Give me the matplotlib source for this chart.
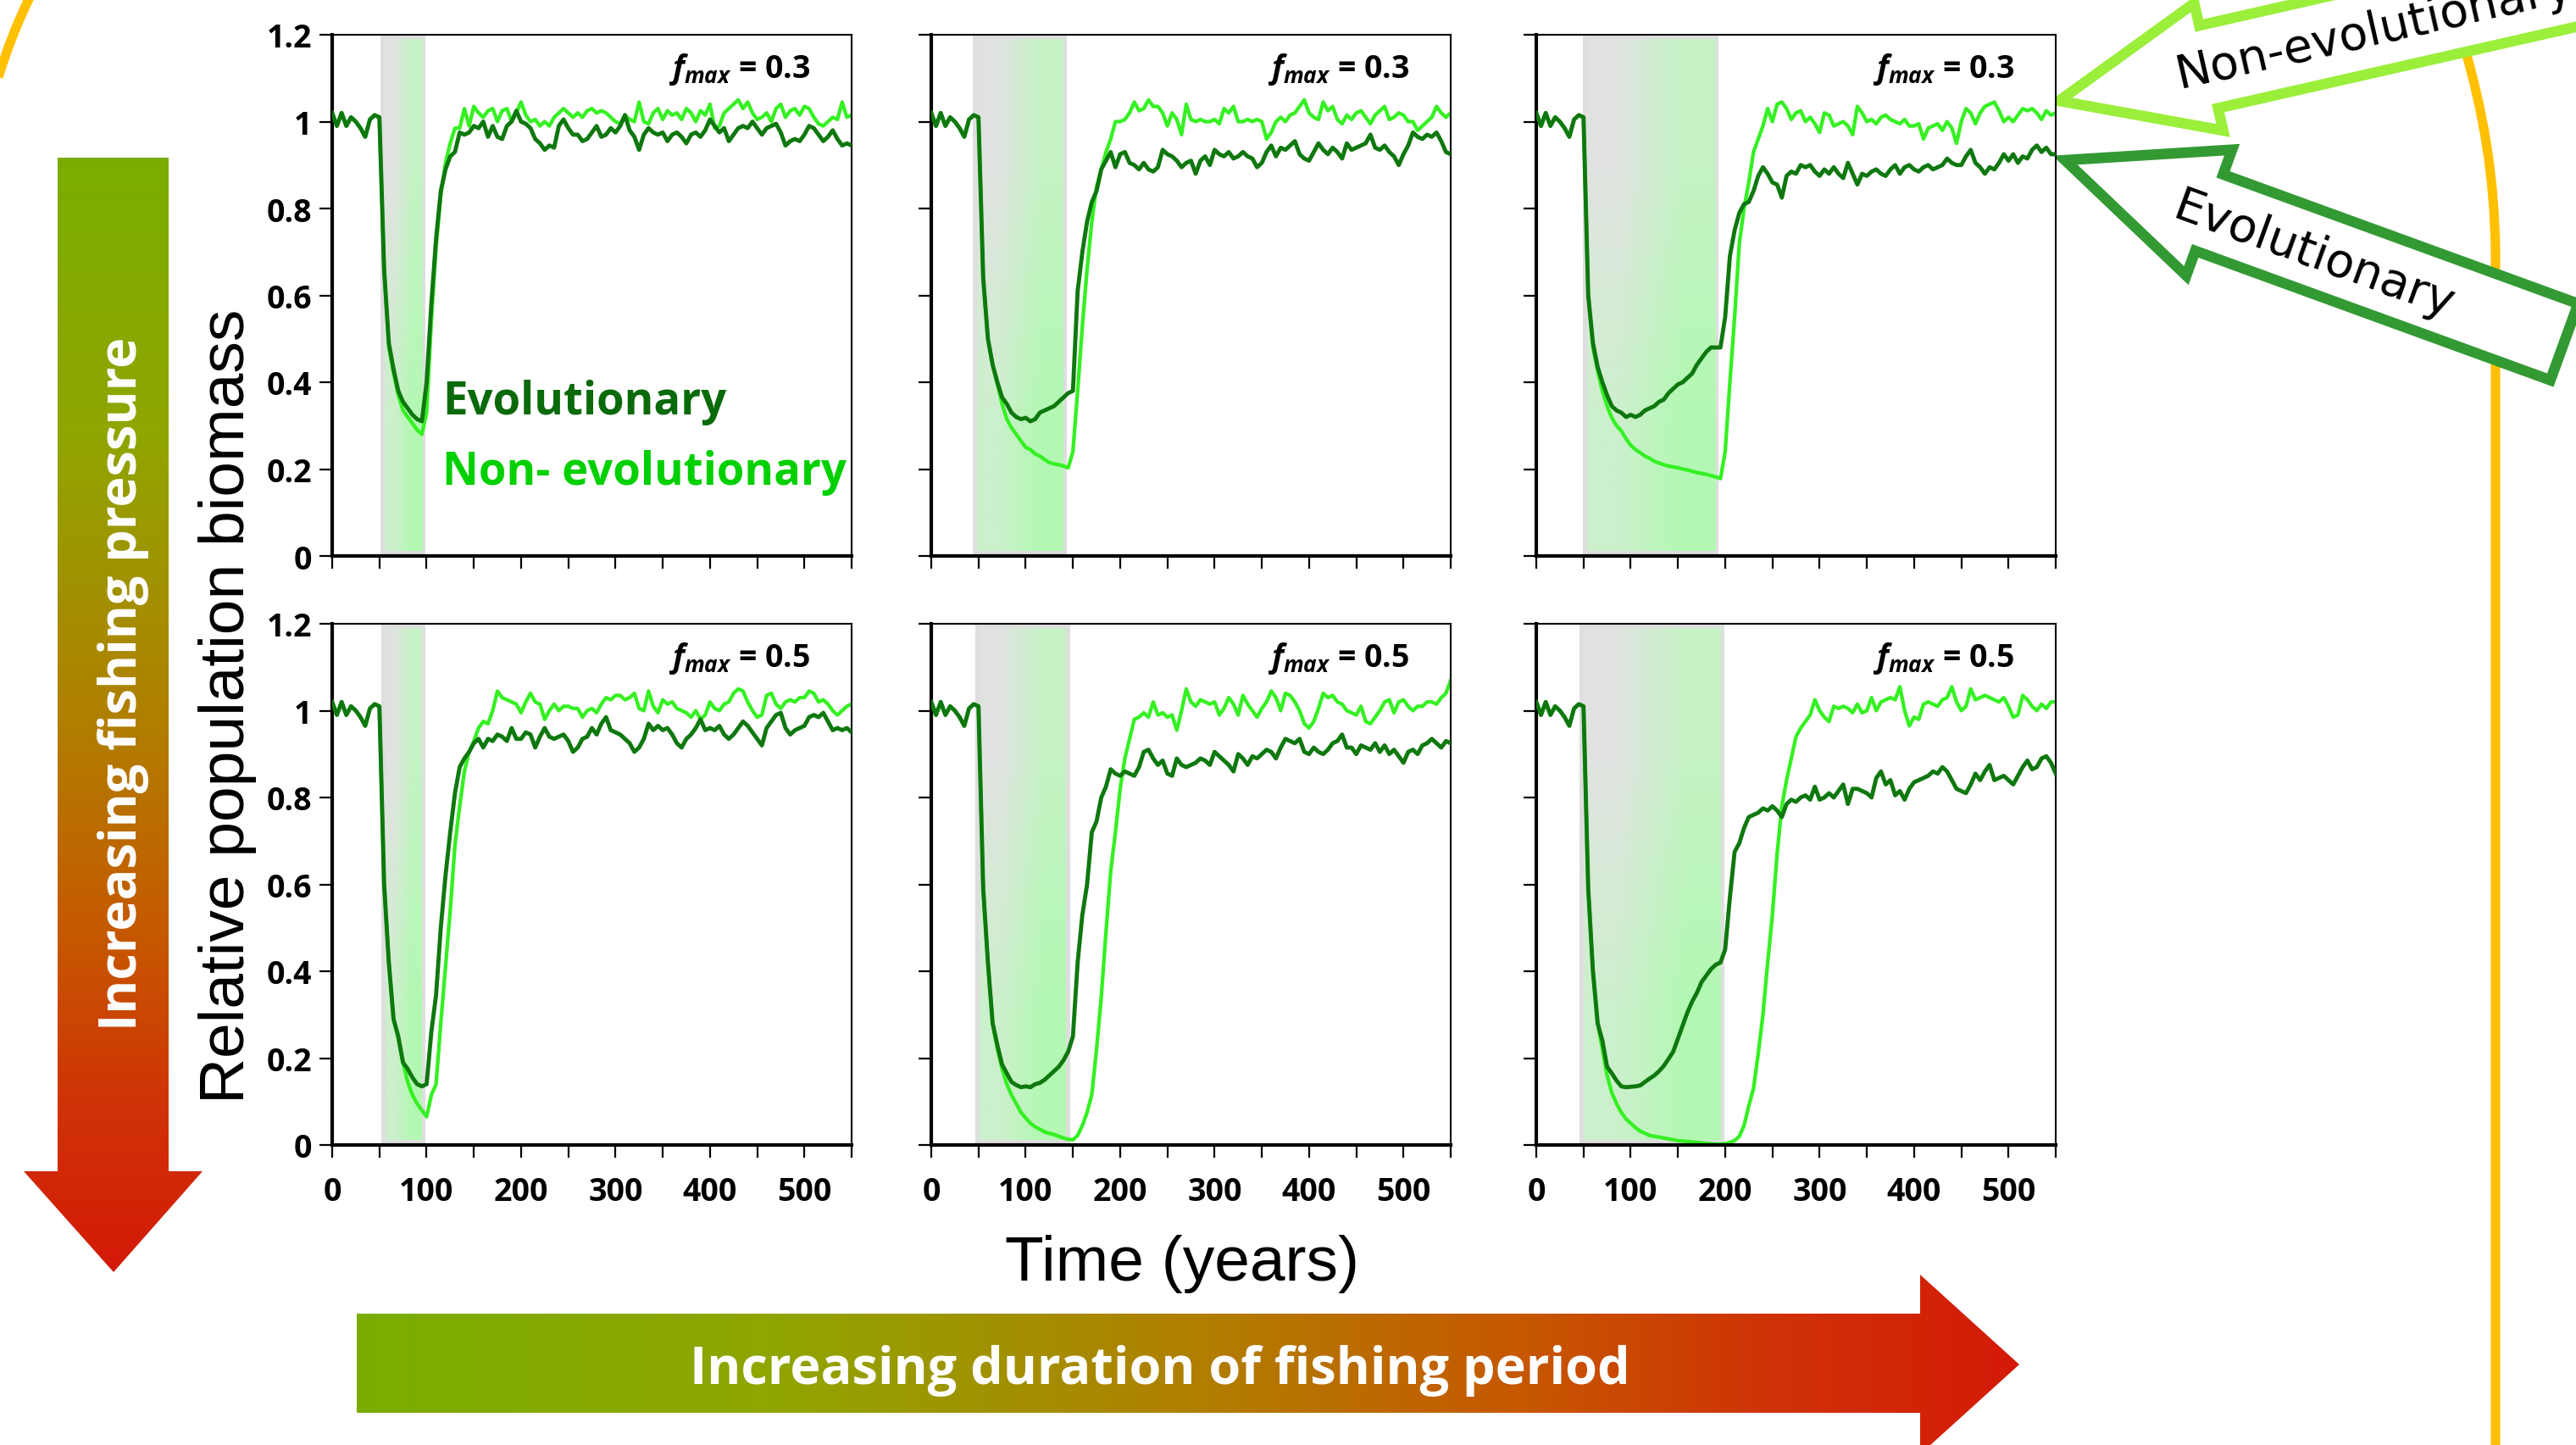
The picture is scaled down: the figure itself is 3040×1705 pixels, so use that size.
import numpy as np
import matplotlib
matplotlib.use('Agg')
import matplotlib.pyplot as plt
from matplotlib.patches import Polygon, PathPatch
from matplotlib.path import Path
from matplotlib.colors import LinearSegmentedColormap

# ---------------- data ----------------
years = list(range(0, 551, 5))
pre_fishing = [1.02, 0.99, 1.02, 0.99, 1.01, 1.00, 0.985, 0.965, 1.005, 1.015, 1.01]

evo_A_post = [
    0.66, 0.49, 0.43, 0.38, 0.355, 0.34, 0.325, 0.315, 0.31, 0.40,
    0.58, 0.73, 0.84, 0.89, 0.92, 0.93, 0.975, 0.97, 0.975, 0.99,
    0.985, 1.0, 0.965, 0.99, 0.965, 0.96, 0.99, 1.0, 1.025, 1.0,
    0.995, 0.985, 0.96, 0.95, 0.935, 0.945, 0.94, 0.99, 1.005, 0.985,
    0.97, 0.97, 0.955, 0.96, 0.975, 0.99, 0.965, 0.97, 0.985, 0.975,
    0.99, 1.015, 0.98, 0.965, 0.935, 0.97, 0.985, 0.975, 0.97, 0.975,
    0.955, 0.97, 0.975, 0.965, 0.95, 0.97, 0.975, 0.965, 0.98, 1.005,
    0.99, 0.975, 0.985, 0.955, 0.97, 0.985, 0.99, 0.985, 1.0, 0.985,
    0.97, 0.985, 0.99, 0.995, 0.975, 0.945, 0.955, 0.96, 0.955, 0.97,
    0.99, 0.985, 0.97, 0.955, 0.965, 0.98, 0.96, 0.945, 0.95, 0.945]
nonevo_A_post = [
    0.66, 0.48, 0.42, 0.37, 0.335, 0.32, 0.305, 0.29, 0.28, 0.33,
    0.54, 0.71, 0.83, 0.905, 0.95, 0.985, 0.985, 1.03, 0.99, 1.035,
    1.02, 1.01, 1.025, 1.03, 1.0, 1.025, 1.03, 1.0, 1.02, 1.045,
    1.015, 1.0, 1.005, 0.99, 1.0, 0.99, 1.01, 1.02, 1.03, 1.02,
    1.01, 1.02, 1.01, 1.025, 1.03, 1.02, 1.025, 1.02, 1.01, 1.0,
    0.995, 1.015, 1.005, 1.0, 1.045, 1.0, 0.995, 1.02, 1.03, 1.005,
    1.025, 1.015, 1.02, 1.005, 1.03, 1.02, 1.0, 1.025, 1.015, 1.04,
    0.985, 0.99, 1.02, 1.03, 1.04, 1.05, 1.03, 1.045, 1.02, 1.005,
    1.01, 1.02, 1.0, 1.03, 1.04, 1.01, 1.025, 1.03, 1.015, 1.035,
    1.03, 1.01, 0.995, 0.99, 1.0, 1.01, 1.005, 1.045, 1.01, 1.015]

evo_B_post = [
    0.64, 0.50, 0.44, 0.40, 0.365, 0.35, 0.33, 0.32, 0.315, 0.318,
    0.31, 0.315, 0.33, 0.335, 0.34, 0.345, 0.355, 0.365, 0.375, 0.38,
    0.61, 0.70, 0.77, 0.815, 0.84, 0.89, 0.91, 0.93, 0.895, 0.925,
    0.93, 0.905, 0.90, 0.89, 0.905, 0.89, 0.885, 0.895, 0.935, 0.925,
    0.92, 0.91, 0.895, 0.905, 0.91, 0.88, 0.91, 0.92, 0.90, 0.935,
    0.925, 0.92, 0.93, 0.915, 0.92, 0.93, 0.92, 0.915, 0.895, 0.905,
    0.93, 0.945, 0.92, 0.94, 0.935, 0.945, 0.955, 0.925, 0.915, 0.91,
    0.93, 0.95, 0.935, 0.925, 0.94, 0.93, 0.915, 0.95, 0.935, 0.94,
    0.945, 0.95, 0.97, 0.94, 0.935, 0.945, 0.93, 0.92, 0.90, 0.925,
    0.945, 0.975, 0.965, 0.96, 0.97, 0.965, 0.975, 0.955, 0.93, 0.925]
nonevo_B_post = [
    0.64, 0.50, 0.44, 0.395, 0.35, 0.315, 0.295, 0.28, 0.265, 0.25,
    0.245, 0.235, 0.23, 0.222, 0.215, 0.212, 0.21, 0.207, 0.203, 0.24,
    0.38, 0.53, 0.66, 0.77, 0.85, 0.89, 0.93, 0.96, 1.0, 1.0,
    1.005, 1.02, 1.045, 1.025, 1.03, 1.05, 1.035, 1.035, 1.02, 0.99,
    1.02, 1.005, 0.97, 1.04, 1.005, 1.0, 1.005, 1.0, 1.0, 1.005,
    0.995, 1.03, 1.02, 1.035, 1.0, 1.0, 1.005, 1.0, 1.005, 1.0,
    0.96, 0.975, 1.0, 1.01, 1.0, 1.015, 1.02, 1.035, 1.05, 1.02,
    1.01, 1.005, 1.045, 1.025, 1.035, 1.005, 0.995, 1.015, 1.005, 1.02,
    1.025, 1.01, 0.995, 1.015, 1.025, 1.035, 1.005, 1.01, 1.02, 1.015,
    1.0, 1.0, 0.98, 0.99, 1.0, 1.01, 1.035, 1.02, 1.01, 1.02]

evo_C_post = [
    0.60, 0.49, 0.435, 0.40, 0.37, 0.345, 0.335, 0.33, 0.32, 0.325,
    0.32, 0.325, 0.335, 0.34, 0.345, 0.355, 0.36, 0.375, 0.385, 0.395,
    0.40, 0.41, 0.42, 0.44, 0.455, 0.47, 0.48, 0.48, 0.48, 0.55,
    0.69, 0.75, 0.79, 0.81, 0.815, 0.84, 0.875, 0.895, 0.88, 0.86,
    0.855, 0.825, 0.875, 0.885, 0.88, 0.90, 0.895, 0.90, 0.885, 0.875,
    0.89, 0.88, 0.895, 0.88, 0.87, 0.905, 0.88, 0.855, 0.88, 0.875,
    0.885, 0.89, 0.88, 0.875, 0.89, 0.90, 0.88, 0.895, 0.90, 0.89,
    0.885, 0.895, 0.90, 0.89, 0.895, 0.90, 0.915, 0.905, 0.90, 0.90,
    0.92, 0.935, 0.905, 0.895, 0.88, 0.895, 0.89, 0.905, 0.925, 0.91,
    0.925, 0.905, 0.92, 0.915, 0.935, 0.945, 0.93, 0.94, 0.925, 0.925]
nonevo_C_post = [
    0.60, 0.48, 0.425, 0.38, 0.345, 0.318, 0.30, 0.288, 0.27, 0.255,
    0.245, 0.238, 0.23, 0.225, 0.218, 0.214, 0.21, 0.207, 0.205, 0.203,
    0.20, 0.198, 0.195, 0.192, 0.19, 0.188, 0.185, 0.182, 0.178, 0.24,
    0.40, 0.55, 0.72, 0.80, 0.86, 0.93, 0.96, 0.99, 1.03, 1.0,
    1.04, 1.045, 1.03, 1.005, 1.02, 1.025, 1.0, 1.01, 0.995, 0.975,
    1.02, 1.015, 0.99, 0.995, 1.0, 0.99, 0.97, 1.035, 1.02, 1.0,
    1.005, 0.995, 1.01, 1.015, 1.005, 1.0, 0.995, 1.005, 0.99, 0.99,
    0.995, 0.96, 0.985, 0.99, 0.995, 0.98, 1.0, 0.985, 0.95, 1.0,
    1.03, 1.02, 0.995, 1.02, 1.035, 1.04, 1.045, 1.025, 1.0, 1.01,
    1.0, 1.015, 1.03, 1.025, 1.03, 1.02, 1.005, 1.025, 1.015, 1.02]

evo_D_post = [
    0.60, 0.42, 0.29, 0.25, 0.19, 0.175, 0.155, 0.14, 0.135, 0.14,
    0.26, 0.345, 0.50, 0.62, 0.72, 0.81, 0.87, 0.89, 0.905, 0.925,
    0.935, 0.915, 0.935, 0.93, 0.945, 0.94, 0.93, 0.96, 0.935, 0.935,
    0.95, 0.945, 0.915, 0.94, 0.96, 0.94, 0.935, 0.94, 0.945, 0.93,
    0.905, 0.915, 0.935, 0.94, 0.96, 0.945, 0.97, 0.985, 0.955, 0.95,
    0.945, 0.935, 0.925, 0.905, 0.915, 0.935, 0.97, 0.955, 0.965, 0.955,
    0.96, 0.945, 0.925, 0.915, 0.935, 0.945, 0.96, 0.98, 0.955, 0.96,
    0.955, 0.965, 0.945, 0.935, 0.945, 0.96, 0.975, 0.965, 0.95, 0.935,
    0.92, 0.96, 0.975, 0.99, 0.995, 0.96, 0.945, 0.955, 0.96, 0.965,
    0.985, 0.99, 0.985, 0.995, 0.975, 0.955, 0.96, 0.955, 0.96, 0.95]
nonevo_D_post = [
    0.60, 0.42, 0.29, 0.245, 0.19, 0.145, 0.115, 0.095, 0.08, 0.065,
    0.115, 0.14, 0.28, 0.41, 0.54, 0.69, 0.78, 0.86, 0.905, 0.93,
    0.96, 0.975, 0.97, 1.0, 1.045, 1.03, 1.025, 1.02, 1.015, 0.995,
    1.02, 1.04, 1.02, 1.015, 0.98, 1.0, 1.015, 1.0, 1.01, 1.01,
    1.005, 1.005, 0.985, 1.0, 1.005, 0.995, 1.015, 1.03, 1.025, 1.035,
    1.035, 1.025, 1.03, 1.04, 1.005, 1.0, 1.045, 1.01, 0.995, 1.025,
    1.015, 1.02, 1.005, 1.0, 0.995, 0.985, 1.0, 0.98, 0.99, 1.02,
    1.005, 1.0, 1.015, 1.02, 1.04, 1.05, 1.045, 1.02, 1.0, 0.985,
    0.99, 1.035, 1.04, 1.015, 1.005, 1.02, 1.025, 1.02, 1.03, 1.03,
    1.045, 1.04, 1.02, 1.025, 1.015, 1.0, 0.99, 1.0, 1.01, 1.015]

evo_E_post = [
    0.59, 0.42, 0.28, 0.23, 0.185, 0.165, 0.145, 0.138, 0.133, 0.135,
    0.133, 0.14, 0.143, 0.15, 0.16, 0.17, 0.18, 0.195, 0.215, 0.25,
    0.42, 0.53, 0.60, 0.72, 0.745, 0.80, 0.825, 0.865, 0.855, 0.85,
    0.86, 0.855, 0.85, 0.87, 0.905, 0.91, 0.89, 0.875, 0.885, 0.855,
    0.85, 0.89, 0.875, 0.87, 0.875, 0.88, 0.89, 0.885, 0.875, 0.905,
    0.895, 0.885, 0.875, 0.86, 0.90, 0.89, 0.875, 0.895, 0.89, 0.90,
    0.91, 0.905, 0.89, 0.915, 0.935, 0.93, 0.925, 0.935, 0.905, 0.90,
    0.915, 0.905, 0.90, 0.91, 0.925, 0.93, 0.945, 0.915, 0.915, 0.90,
    0.92, 0.915, 0.91, 0.925, 0.905, 0.92, 0.90, 0.91, 0.895, 0.88,
    0.905, 0.91, 0.90, 0.92, 0.925, 0.935, 0.925, 0.915, 0.93, 0.925]
nonevo_E_post = [
    0.59, 0.42, 0.28, 0.22, 0.175, 0.14, 0.115, 0.095, 0.075, 0.062,
    0.05, 0.042, 0.036, 0.03, 0.027, 0.024, 0.02, 0.016, 0.013, 0.012,
    0.022, 0.045, 0.075, 0.116, 0.22, 0.34, 0.49, 0.63, 0.72, 0.82,
    0.89, 0.935, 0.98, 0.985, 0.995, 0.985, 1.02, 0.99, 0.995, 0.985,
    0.99, 0.955, 1.0, 1.05, 1.02, 1.01, 1.025, 1.02, 1.015, 1.02,
    0.99, 1.005, 1.03, 1.015, 0.99, 1.035, 1.015, 1.0, 0.985, 1.005,
    1.02, 1.045, 1.03, 1.0, 1.04, 1.035, 1.02, 1.0, 0.97, 0.96,
    0.975, 1.005, 1.04, 1.03, 1.035, 1.02, 1.015, 1.0, 0.995, 0.99,
    1.01, 0.975, 0.97, 0.985, 1.0, 1.02, 1.025, 0.995, 1.02, 1.025,
    1.01, 1.0, 1.01, 1.01, 1.02, 1.02, 1.015, 1.03, 1.04, 1.07]

evo_F_post = [
    0.59, 0.40, 0.28, 0.24, 0.18, 0.165, 0.148, 0.135, 0.133, 0.134,
    0.135, 0.137, 0.145, 0.153, 0.16, 0.17, 0.182, 0.198, 0.215, 0.245,
    0.275, 0.305, 0.33, 0.35, 0.375, 0.39, 0.405, 0.415, 0.42, 0.45,
    0.57, 0.675, 0.695, 0.73, 0.755, 0.76, 0.765, 0.775, 0.77, 0.78,
    0.77, 0.755, 0.785, 0.795, 0.79, 0.80, 0.805, 0.795, 0.825, 0.795,
    0.80, 0.81, 0.80, 0.815, 0.83, 0.785, 0.82, 0.82, 0.815, 0.81,
    0.80, 0.845, 0.86, 0.83, 0.84, 0.805, 0.815, 0.795, 0.82, 0.835,
    0.84, 0.845, 0.85, 0.86, 0.855, 0.87, 0.86, 0.84, 0.82, 0.815,
    0.81, 0.83, 0.855, 0.84, 0.86, 0.875, 0.84, 0.845, 0.85, 0.84,
    0.83, 0.85, 0.87, 0.885, 0.865, 0.87, 0.89, 0.895, 0.88, 0.855]
nonevo_F_post = [
    0.59, 0.40, 0.28, 0.22, 0.16, 0.12, 0.095, 0.075, 0.06, 0.05,
    0.04, 0.032, 0.027, 0.022, 0.02, 0.018, 0.016, 0.014, 0.012, 0.01,
    0.009, 0.008, 0.007, 0.006, 0.005, 0.004, 0.003, 0.002, 0.002, 0.003,
    0.006, 0.01, 0.02, 0.045, 0.09, 0.13, 0.21, 0.30, 0.42, 0.53,
    0.67, 0.78, 0.84, 0.89, 0.94, 0.96, 0.975, 0.99, 1.025, 1.0,
    0.985, 0.975, 1.01, 1.005, 1.01, 1.005, 0.995, 1.015, 0.995, 1.0,
    1.03, 1.0, 1.02, 1.025, 1.03, 1.025, 1.055, 1.0, 0.965, 0.985,
    0.98, 1.015, 1.02, 1.015, 1.01, 1.025, 1.03, 1.055, 1.02, 1.0,
    1.01, 1.05, 1.025, 1.03, 1.035, 1.03, 1.025, 1.02, 1.03, 1.01,
    0.985, 0.99, 1.035, 1.025, 1.01, 1.0, 1.015, 1.005, 1.02, 1.02]

fmax_labels = ['0.3', '0.3', '0.3', '0.5', '0.5', '0.5']
shade_start = [51, 44, 49, 52, 47, 46]
shade_end = [99, 144, 193, 99, 147, 199]
y_ticks = [0, 0.2, 0.4, 0.6, 0.8, 1.0, 1.2]
y_ticklabels = ['0', '0.2', '0.4', '0.6', '0.8', '1', '1.2']
x_ticks = [0, 100, 200, 300, 400, 500]
x_minor_ticks = [50, 150, 250, 350, 450, 550]

evo_series = [pre_fishing + s for s in (evo_A_post, evo_B_post, evo_C_post,
                                         evo_D_post, evo_E_post, evo_F_post)]
nonevo_series = [pre_fishing + s for s in (nonevo_A_post, nonevo_B_post, nonevo_C_post,
                                            nonevo_D_post, nonevo_E_post, nonevo_F_post)]
for s in evo_series + nonevo_series:
    assert len(s) == len(years), len(s)

# ---------------- style ----------------
plt.rcParams['font.family'] = ['Open Sans', 'DejaVu Sans']
plt.rcParams['mathtext.fontset'] = 'custom'
plt.rcParams['mathtext.it'] = 'Open Sans:italic:bold'
plt.rcParams['mathtext.rm'] = 'Open Sans:bold'
plt.rcParams['mathtext.bf'] = 'Open Sans:bold'

DARK = '#0e780e'
LIGHT = '#35f022'
TXT_DARK = '#0a6a0a'
TXT_LIGHT = '#00d000'
YELLOW = '#ffc000'

W, H, DPI = 3040, 1706, 100
fig = plt.figure(figsize=(W / DPI, H / DPI), dpi=DPI)

# background overlay in pixel coordinates
bg = fig.add_axes([0, 0, 1, 1], zorder=0)
bg.axis('off')

grad_cmap = LinearSegmentedColormap.from_list(
    'press', [(0.0, '#7aad00'), (0.25, '#90a500'), (0.5, '#b08000'),
              (0.7, '#c65800'), (0.85, '#cf3306'), (1.0, '#d41a08')])

# vertical arrow (fishing pressure)
left_poly = Polygon([(68, 187), (199, 187), (199, 1383), (239, 1383), (134, 1502),
                     (28, 1383), (68, 1383)], closed=True, facecolor='none', edgecolor='none')
bg.add_patch(left_poly)
im = bg.imshow(np.linspace(0, 1, 256).reshape(-1, 1), cmap=grad_cmap,
               extent=[28, 239, 1502, 187], aspect='auto', origin='upper', zorder=1)
im.set_clip_path(left_poly)

# horizontal arrow (duration)
bot_poly = Polygon([(421, 1551), (2266, 1551), (2266, 1505), (2383, 1611), (2266, 1717),
                    (2266, 1668), (421, 1668)], closed=True, facecolor='none', edgecolor='none')
bg.add_patch(bot_poly)
im2 = bg.imshow(np.linspace(0, 1, 256).reshape(1, -1), cmap=grad_cmap,
                extent=[421, 2383, 1717, 1505], aspect='auto', origin='upper', zorder=1)
im2.set_clip_path(bot_poly)

bg.text(161, 807, 'Increasing fishing pressure', rotation=90, rotation_mode='anchor',
        ha='center', va='baseline', color='white', fontsize=44, fontweight='bold', zorder=3)
bg.text(1369, 1633, 'Increasing duration of fishing period', ha='center', va='baseline',
        color='white', fontsize=44, fontweight='bold', zorder=3)

# axis titles
bg.text(288, 833, 'Relative population biomass', rotation=90, rotation_mode='anchor',
        ha='center', va='baseline', fontsize=54, family='Liberation Sans', zorder=3)
bg.text(1395, 1511, 'Time (years)', ha='center', va='baseline', fontsize=54,
        family='Liberation Sans', zorder=3)

# yellow connector lines
right_path = Path([(2908, 55), (2931, 135), (2944, 210), (2945, 300), (2945, 1720)],
                  [Path.MOVETO, Path.CURVE4, Path.CURVE4, Path.CURVE4, Path.LINETO])
bg.add_patch(PathPatch(right_path, fill=False, edgecolor=YELLOW, lw=8, capstyle='butt', zorder=1))
left_path = Path([(-2, 92), (8, 60), (20, 28), (36, -4)],
                 [Path.MOVETO, Path.CURVE4, Path.CURVE4, Path.CURVE4])
bg.add_patch(PathPatch(left_path, fill=False, edgecolor=YELLOW, lw=8, capstyle='butt', zorder=1))


def arrow_outline(tip, ang, head_len, head_half, shaft_half, length):
    a = np.deg2rad(ang)
    d = np.array([np.cos(a), -np.sin(a)])
    p = np.array([np.sin(a), np.cos(a)])
    T = np.array(tip, float)
    B = T + head_len * d
    E = T + length * d
    pts = [T, B + head_half * p, B + shaft_half * p, E + shaft_half * p,
           E - shaft_half * p, B - shaft_half * p, B - head_half * p]
    return pts, T, d, p


pts, T, d, p = arrow_outline((2430, 120), 12.8, 181, 77, 50, 900)
bg.add_patch(Polygon(pts, closed=True, facecolor='white', edgecolor='#9bef3a', lw=9,
                     joinstyle='miter', zorder=2))
anc = T + 142 * d + 16 * p
bg.text(anc[0], anc[1], 'Non-evolutionary', rotation=12.8, rotation_mode='anchor',
        ha='left', va='baseline', fontsize=40, family='DejaVu Sans', zorder=3)

pts, T, d, p = arrow_outline((2437, 190), -20, 181, 79, 48, 627)
bg.add_patch(Polygon(pts, closed=True, facecolor='white', edgecolor='#339933', lw=9,
                     joinstyle='miter', zorder=2))
anc = T + 140 * d + 20 * p
bg.text(anc[0], anc[1], 'Evolutionary', rotation=-20, rotation_mode='anchor',
        ha='left', va='baseline', fontsize=40, family='DejaVu Sans', zorder=3)

bg.set_xlim(0, W)
bg.set_ylim(H, 0)

# ---------------- panels ----------------
col_left = [392, 1099, 1813]
row_top = [42, 737]
pw, ph = 613, 615

grad_img = np.array([[[0.88, 0.89, 0.88], [0.77, 0.95, 0.77]],
                     [[0.80, 0.94, 0.80], [0.70, 0.975, 0.70]]])

for i in range(6):
    r, c = divmod(i, 3)
    ax = fig.add_axes([col_left[c] / W, 1 - (row_top[r] + ph) / H, pw / W, ph / H], zorder=1)
    s0, s1 = shade_start[i], shade_end[i]
    ax.axvspan(s0, s1, color='#dedede', lw=0, zorder=0)
    ax.imshow(grad_img, extent=[s0 + 4.5, s1 - 4, 0.012, 1.19], aspect='auto',
              interpolation='bilinear', zorder=0.5)
    ax.plot(years, nonevo_series[i], color=LIGHT, lw=3.1, zorder=2)
    ax.plot(years, evo_series[i], color=DARK, lw=3.5, zorder=3)
    ax.set_xlim(0, 550)
    ax.set_ylim(0, 1.2)
    ax.set_aspect('auto')

    ax.set_xticks(x_ticks)
    ax.set_xticks(x_minor_ticks, minor=True)
    ax.set_yticks(y_ticks)
    ax.set_yticklabels(y_ticklabels)
    ax.tick_params(axis='both', which='both', direction='out', length=11, width=1.6,
                   labelsize=27)
    ax.tick_params(axis='x', pad=15)
    ax.tick_params(axis='y', pad=6)
    for lab in ax.get_xticklabels() + ax.get_yticklabels():
        lab.set_fontweight('bold')
    if c > 0:
        ax.tick_params(axis='y', labelleft=False)
    if r == 0:
        ax.tick_params(axis='x', labelbottom=False)
    ax.spines['left'].set_linewidth(3.0)
    ax.spines['bottom'].set_linewidth(3.0)
    ax.spines['top'].set_linewidth(1.5)
    ax.spines['right'].set_linewidth(1.5)

    ax.text(0.92, 0.935, r'$f_{max}$' + ' = ' + fmax_labels[i], transform=ax.transAxes,
            ha='right', va='center', fontsize=27, fontweight='bold', zorder=5)

    if i == 0:
        ax.text(0.212, 0.273, 'Evolutionary', transform=ax.transAxes, color=TXT_DARK,
                fontsize=38, fontweight='bold', va='baseline', ha='left', zorder=5)
        ax.text(0.212, 0.138, 'Non- evolutionary', transform=ax.transAxes, color=TXT_LIGHT,
                fontsize=38, fontweight='bold', va='baseline', ha='left', zorder=5)

fig.savefig('out.png', dpi=DPI)
